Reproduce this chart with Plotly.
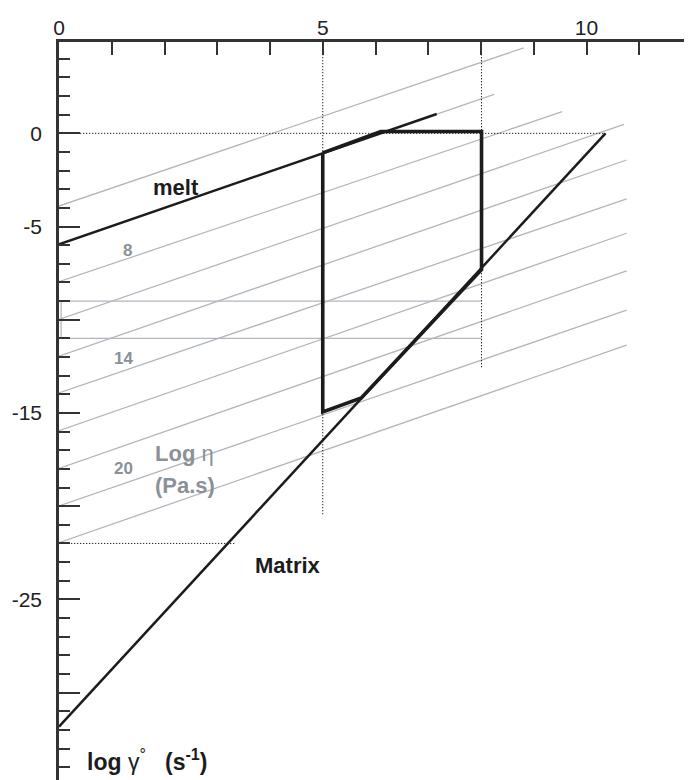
import plotly.graph_objects as go

# ---------------- data ----------------
x_tick_vals = [0, 1, 2, 3, 4, 5, 6, 7, 8, 9, 10, 11]
x_tick_text = ['0', '', '', '', '', '5', '', '', '', '', '10', '']
y_major_vals = [0, -5, -10, -15, -20, -25, -30]
y_major_text = ['0', '-5', '', '-15', '', '-25', '']

# iso-viscosity lines (log eta), start at x = 0
visc_start_x = [0, 0, 0, 0, 0, 0, 0, 0, 0, 0]
visc_start_y = [-3.9, -5.95, -7.96, -9.98, -11.95, -13.92, -15.95, -17.97, -19.99, -21.96]
visc_end_x = [8.81, 8.25, 9.54, 10.71, 10.76, 10.76, 10.76, 10.76, 10.76, 10.76]
visc_end_y = [4.59, 2.09, 1.16, 0.48, -1.43, -3.52, -5.36, -7.38, -9.48, -11.36]

# melt and matrix lines
melt_x = [0, 7.16]
melt_y = [-5.95, 1.04]
matrix_x = [0, 10.36]
matrix_y = [-31.83, 0]

# thick outline (field)
field_x = [5.0, 6.1, 8.01, 8.01, 5.73, 5.0, 5.0]
field_y = [-1.05, 0.1, 0.1, -7.3, -14.2, -14.95, -1.05]

# grey band
band_x = [8.01, 0.04, 0.04, 8.01]
band_y = [-9.0, -9.0, -11.0, -11.0]

# dotted guide lines
guide_v1_x = [5.0, 5.0]
guide_v1_y = [4.9, -20.48]
guide_v2_x = [8.01, 8.01]
guide_v2_y = [4.9, -12.6]
guide_h1_x = [0, 10.36]
guide_h1_y = [0, 0]
guide_h2_x = [0, 3.35]
guide_h2_y = [-22, -22]

# labels
visc_labels = ['8', '14', '20']
visc_label_x = [1.29, 1.23, 1.23]
visc_label_y = [-6.26, -12.09, -17.97]

# ---------------- figure ----------------
GREY_LINE = '#b1b7bd'
GREY_TEXT = '#8a9198'
INK = '#1c1c1c'
AXIS = '#333333'
FONT = 'Arial, Liberation Sans, Helvetica, sans-serif'

fig = go.Figure()

for xs, ys, xe, ye in zip(visc_start_x, visc_start_y, visc_end_x, visc_end_y):
    fig.add_trace(go.Scatter(x=[xs, xe], y=[ys, ye], mode='lines',
                             line=dict(color=GREY_LINE, width=1.3),
                             hoverinfo='skip', showlegend=False))

fig.add_trace(go.Scatter(x=band_x, y=band_y, mode='lines',
                         line=dict(color=GREY_LINE, width=1.3),
                         hoverinfo='skip', showlegend=False))

for gx, gy in [(guide_v1_x, guide_v1_y), (guide_v2_x, guide_v2_y),
               (guide_h1_x, guide_h1_y), (guide_h2_x, guide_h2_y)]:
    fig.add_trace(go.Scatter(x=gx, y=gy, mode='lines',
                             line=dict(color='#222222', width=1, dash='1.3px,1.7px'),
                             hoverinfo='skip', showlegend=False))

fig.add_trace(go.Scatter(x=melt_x, y=melt_y, mode='lines', name='melt',
                         line=dict(color=INK, width=2.5), showlegend=False))
fig.add_trace(go.Scatter(x=matrix_x, y=matrix_y, mode='lines', name='Matrix',
                         line=dict(color=INK, width=2.5), showlegend=False))
fig.add_trace(go.Scatter(x=field_x, y=field_y, mode='lines',
                         line=dict(color=INK, width=3.6),
                         hoverinfo='skip', showlegend=False))

# text labels
fig.add_annotation(x=2.21, y=-2.93, text='<b>melt</b>', showarrow=False,
                   font=dict(family=FONT, size=22, color=INK))
fig.add_annotation(x=4.34, y=-23.16, text='<b>Matrix</b>', showarrow=False,
                   font=dict(family=FONT, size=22, color=INK))
for t, lx, ly in zip(visc_labels, visc_label_x, visc_label_y):
    fig.add_annotation(x=lx, y=ly, text='<b>' + t + '</b>', showarrow=False,
                       font=dict(family=FONT, size=17, color=GREY_TEXT))
fig.add_annotation(x=1.78, y=-17.2, text='<b>Log</b> η', showarrow=False,
                   xanchor='left', font=dict(family=FONT, size=22, color=GREY_TEXT))
fig.add_annotation(x=1.78, y=-18.87, text='<b>(Pa.s)</b>', showarrow=False,
                   xanchor='left', font=dict(family=FONT, size=22, color=GREY_TEXT))
fig.add_annotation(x=0.49, y=-33.6,
                   text='<b>log</b> γ<sup>°</sup>   <b>(s<sup>-1</sup>)</b>',
                   showarrow=False, xanchor='left',
                   font=dict(family=FONT, size=23, color=INK))

fig.update_xaxes(range=[0, 12.0], side='top', showline=True, linecolor=AXIS,
                 linewidth=2.5, showgrid=False, zeroline=False, automargin=False,
                 tickmode='array', tickvals=x_tick_vals, ticktext=x_tick_text,
                 ticks='inside', ticklen=13, tickwidth=2.2, tickcolor=AXIS,
                 ticklabelstandoff=-4,
                 tickfont=dict(family=FONT, size=21, color='#222222'))
fig.update_yaxes(range=[-34.69, 4.90], showline=True, linecolor=AXIS,
                 linewidth=2.5, showgrid=False, zeroline=False, automargin=False,
                 tickmode='array', tickvals=y_major_vals, ticktext=y_major_text,
                 ticks='inside', ticklen=21, tickwidth=2.2, tickcolor=AXIS,
                 ticklabelstandoff=10,
                 minor=dict(dtick=1, ticks='inside', ticklen=11, tickwidth=2.2,
                            tickcolor=AXIS, showgrid=False),
                 tickfont=dict(family=FONT, size=21, color='#222222'))

# page body has an 8px margin: shift the figure so the plot lands where the reference has it
fig.update_layout(width=684, height=772, margin=dict(l=51, r=0, t=34, b=0),
                  plot_bgcolor='white', paper_bgcolor='white', showlegend=False)

fig.write_html('out.html')
